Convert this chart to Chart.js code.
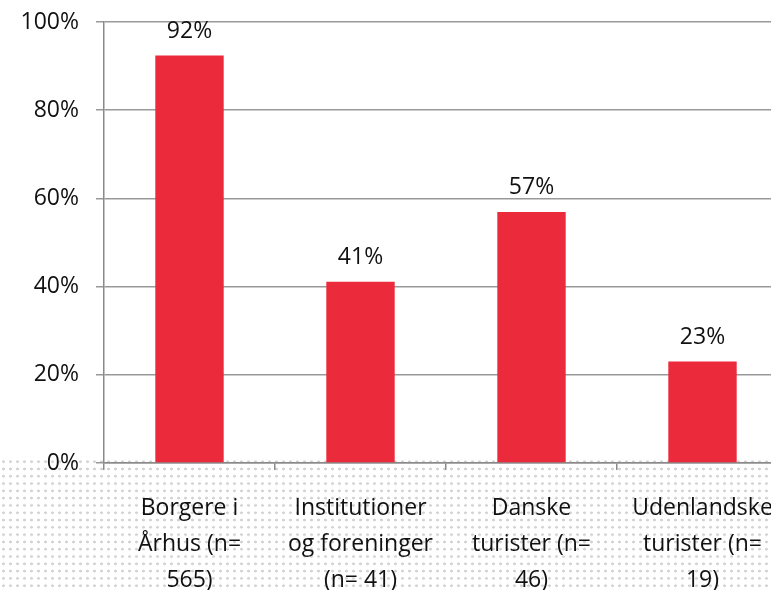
<!DOCTYPE html>
<html>
<head>
<meta charset="utf-8">
<script src="https://cdn.jsdelivr.net/npm/chart.js@4"></script>
<style>
  html, body { margin: 0; padding: 0; background: #fff; overflow: hidden; }
  #wrap { position: relative; width: 771px; height: 590px; overflow: hidden; }
  /* dotted backdrop under the axis */
  #dots {
    position: absolute; left: 0; top: 458px; width: 800px; height: 140px;
    background-image: radial-gradient(circle, #d2d2d2 1.1px, transparent 1.6px);
    background-size: 7px 7.3px;
    background-position: 0 0;
  }
  #barChart { position: absolute; left: 0; top: 0; }
</style>
</head>
<body>
<div id="wrap">
  <div id="dots"></div>
  <canvas id="barChart" width="788" height="590"></canvas>
</div>
<script>
// categories and values
const categories = [
    ['Borgere i', 'Århus (n=', '565)'],
    ['Institutioner', 'og foreninger', '(n= 41)'],
    ['Danske', 'turister (n=', '46)'],
    ['Udenlandske', 'turister (n=', '19)']
];
const shares = [92.4, 41.1, 56.9, 23.0];
const yTicks = [0, 20, 40, 60, 80, 100];

const fontFamily = '"Open Sans", Roboto, sans-serif';

// draws the "92%" style labels above each bar
const valueLabels = {
    id: 'valueLabels',
    afterDatasetsDraw(chart) {
        const ctx = chart.ctx;
        const meta = chart.getDatasetMeta(0);
        ctx.save();
        ctx.font = '400 23px ' + fontFamily;
        ctx.fillStyle = '#111';
        ctx.textAlign = 'center';
        ctx.textBaseline = 'bottom';
        meta.data.forEach((bar, i) => {
            ctx.fillText(Math.round(shares[i]) + '%', bar.x, bar.y - 13);
        });
        ctx.restore();
    }
};

// no automatic padding from tick labels, so the plot area lands where the picture has it
function noPadding(scale) {
    scale.paddingTop = 0;
    scale.paddingBottom = 0;
    scale.paddingLeft = 0;
    scale.paddingRight = 0;
}

function initChart() {
    const ctx = document.getElementById('barChart').getContext('2d');
    new Chart(ctx, {
        type: 'bar',
        data: {
            labels: categories,
            datasets: [{
                data: shares,
                backgroundColor: '#eb2b3c',
                borderWidth: 0,
                barPercentage: 0.4,
                categoryPercentage: 1
            }]
        },
        options: {
            responsive: false,
            animation: false,
            layout: { padding: { top: 22, left: 0, right: 0, bottom: 0 } },
            plugins: {
                legend: { display: false },
                tooltip: { enabled: false }
            },
            scales: {
                x: {
                    grid: {
                        offset: true,
                        drawOnChartArea: false,
                        drawTicks: true,
                        tickLength: 7,
                        color: '#8a8a8a',
                        lineWidth: 1.5
                    },
                    border: { color: '#8a8a8a', width: 1.5 },
                    ticks: {
                        color: '#111',
                        padding: 21,
                        maxRotation: 0,
                        autoSkip: false,
                        font: { family: fontFamily, size: 23, weight: '400', lineHeight: 1.56 }
                    },
                    afterFit(scale) {
                        scale.height = 127;
                        noPadding(scale);
                    }
                },
                y: {
                    min: 0,
                    max: 100,
                    afterBuildTicks(scale) {
                        scale.ticks = yTicks.map(v => ({ value: v }));
                    },
                    grid: {
                        color: '#999',
                        lineWidth: 1.5,
                        tickLength: 8
                    },
                    border: { color: '#8a8a8a', width: 1.5 },
                    ticks: {
                        color: '#111',
                        padding: 17,
                        callback: v => v + '%',
                        font: { family: fontFamily, size: 23, weight: '400' }
                    },
                    afterFit(scale) {
                        scale.width = 104;
                        noPadding(scale);
                    }
                }
            }
        },
        plugins: [valueLabels]
    });
}

window.onload = () => {
    initChart();
};
</script>
</body>
</html>
